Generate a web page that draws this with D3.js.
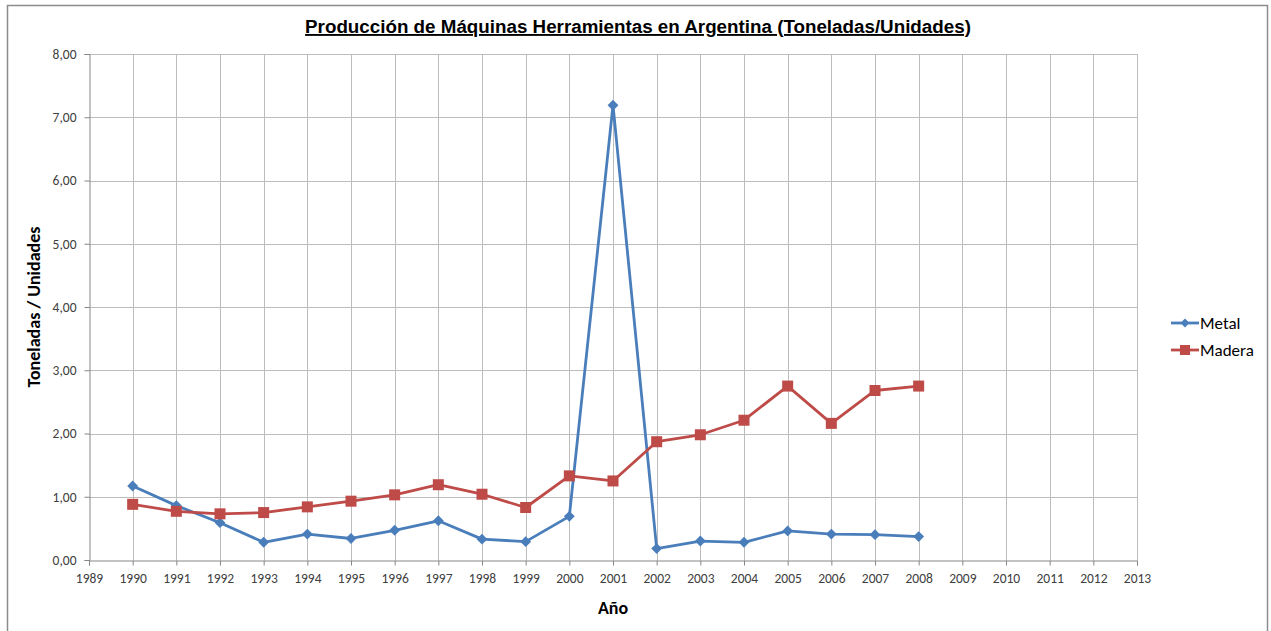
<!DOCTYPE html>
<html>
<head>
<meta charset="utf-8">
<script src="https://cdn.jsdelivr.net/npm/d3@7"></script>
<style>
  body { margin: 0; background: #fff; }
  svg { display: block; }
</style>
</head>
<body>
<svg width="1271" height="631"></svg>
<script>
const years = d3.range(1989, 2014);
const dataYears = d3.range(1990, 2009);
const metal = [1.17, 0.86, 0.59, 0.28, 0.41, 0.34, 0.47, 0.62, 0.33, 0.29, 0.69, 7.19, 0.18, 0.30, 0.28, 0.46, 0.41, 0.40, 0.37];
const madera = [0.88, 0.77, 0.73, 0.75, 0.84, 0.93, 1.03, 1.19, 1.04, 0.83, 1.33, 1.25, 1.87, 1.98, 2.21, 2.75, 2.16, 2.68, 2.75];
const yTicks = [0, 1, 2, 3, 4, 5, 6, 7, 8];

const svg = d3.select("svg");
const margin = {left: 89, right: 1137, top: 54, bottom: 560};
const font = "Carlito, Calibri, 'Open Sans', sans-serif";

const x = d3.scaleLinear().domain([1989, 2013]).range([margin.left, margin.right]);
const y = d3.scaleLinear().domain([0, 8]).range([margin.bottom, margin.top]);
const fmt = v => d3.format(".2f")(v).replace(".", ",");

// outer frame
svg.append("rect")
  .attr("x", 7.5).attr("y", 5.5)
  .attr("width", 1260).attr("height", 640)
  .attr("fill", "none")
  .attr("stroke", "#8c8c8c")
  .attr("stroke-width", 1.5);

// grid
svg.append("g")
  .selectAll("line")
  .data(yTicks.slice(1))
  .enter().append("line")
  .attr("x1", margin.left).attr("x2", margin.right)
  .attr("y1", d => Math.round(y(d)) + 0.5).attr("y2", d => Math.round(y(d)) + 0.5)
  .attr("stroke", "#bdbdbd");

svg.append("g")
  .selectAll("line")
  .data(years.slice(1))
  .enter().append("line")
  .attr("y1", margin.top).attr("y2", margin.bottom)
  .attr("x1", d => Math.round(x(d)) + 0.5).attr("x2", d => Math.round(x(d)) + 0.5)
  .attr("stroke", "#bdbdbd");

// axes
const yAxis = svg.append("g")
  .attr("transform", `translate(${margin.left + 0.5},0)`)
  .call(d3.axisLeft(y).tickValues(yTicks).tickSize(5).tickPadding(8).tickFormat(fmt));
const xAxis = svg.append("g")
  .attr("transform", `translate(0,${margin.bottom + 0.5})`)
  .call(d3.axisBottom(x).tickValues(years).tickSize(5).tickPadding(8).tickFormat(d3.format("d")));

[yAxis, xAxis].forEach(a => {
  a.selectAll(".domain, line").attr("stroke", "#868686");
  a.selectAll("text")
    .attr("fill", "#404040")
    .attr("font-family", font)
    .attr("font-size", 13.5);
});

// lines
const line = d3.line().x((d, i) => x(dataYears[i])).y(d => y(d));

svg.append("path")
  .datum(metal)
  .attr("fill", "none")
  .attr("stroke", "#4a7ebb")
  .attr("stroke-width", 2.8)
  .attr("stroke-linejoin", "round")
  .attr("d", line);

svg.append("path")
  .datum(madera)
  .attr("fill", "none")
  .attr("stroke", "#be4b48")
  .attr("stroke-width", 2.8)
  .attr("stroke-linejoin", "round")
  .attr("d", line);

const diamond = d3.symbol().type(d3.symbolDiamond2).size(75);
svg.append("g")
  .selectAll("path")
  .data(metal)
  .enter().append("path")
  .attr("d", diamond)
  .attr("transform", (d, i) => `translate(${x(dataYears[i])},${y(d)})`)
  .attr("fill", "#4a7ebb");

svg.append("g")
  .selectAll("rect")
  .data(madera)
  .enter().append("rect")
  .attr("x", (d, i) => x(dataYears[i]) - 5.5)
  .attr("y", d => y(d) - 5.5)
  .attr("width", 11).attr("height", 11)
  .attr("fill", "#be4b48");

// title
svg.append("text")
  .attr("x", 638).attr("y", 33)
  .attr("text-anchor", "middle")
  .attr("font-family", "'Liberation Sans Narrow', 'Arial Narrow', 'Liberation Sans', sans-serif")
  .attr("font-weight", "bold")
  .attr("font-size", 18.8)
  .attr("text-decoration", "underline")
  .attr("fill", "#000")
  .text("Producción de Máquinas Herramientas en Argentina (Toneladas/Unidades)");

// axis titles
svg.append("text")
  .attr("x", 613).attr("y", 614)
  .attr("text-anchor", "middle")
  .attr("font-family", font)
  .attr("font-weight", "bold")
  .attr("font-size", 18)
  .attr("fill", "#000")
  .text("Año");

svg.append("text")
  .attr("transform", "translate(40,307) rotate(-90)")
  .attr("text-anchor", "middle")
  .attr("font-family", font)
  .attr("font-weight", "bold")
  .attr("font-size", 18)
  .attr("fill", "#000")
  .text("Toneladas / Unidades");

// legend
const legend = [
  {name: "Metal", color: "#4a7ebb", shape: "diamond"},
  {name: "Madera", color: "#be4b48", shape: "square"}
];
const lg = svg.append("g")
  .selectAll("g")
  .data(legend)
  .enter().append("g")
  .attr("transform", (d, i) => `translate(1171,${323 + i * 27})`);
lg.append("line")
  .attr("x1", 0).attr("x2", 28)
  .attr("stroke", d => d.color)
  .attr("stroke-width", 2.8);
lg.filter(d => d.shape === "diamond").append("path")
  .attr("d", d3.symbol().type(d3.symbolDiamond2).size(50))
  .attr("transform", "translate(14,0)")
  .attr("fill", d => d.color);
lg.filter(d => d.shape === "square").append("rect")
  .attr("x", 9).attr("y", -5).attr("width", 10).attr("height", 10)
  .attr("fill", d => d.color);
lg.append("text")
  .attr("x", 29).attr("y", 6)
  .attr("font-family", font)
  .attr("font-size", 17)
  .attr("fill", "#000")
  .text(d => d.name);
</script>
</body>
</html>
